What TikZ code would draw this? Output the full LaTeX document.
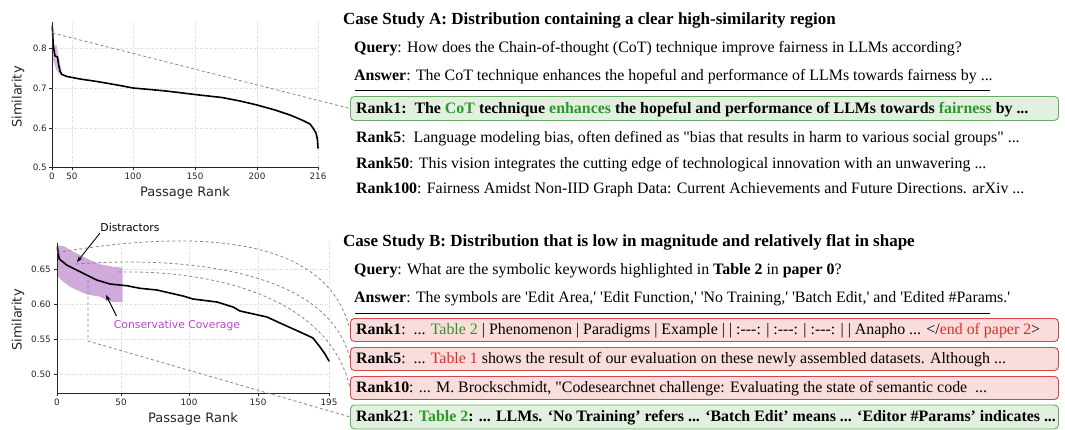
\documentclass[tikz,border=0pt]{standalone}
\usepackage{fontspec}
\setmainfont{Liberation Serif}[Ligatures=TeXOff]
\newfontfamily\plotfont{DejaVu Sans}
\usetikzlibrary{arrows.meta}
\definecolor{gtext}{RGB}{44,150,44}
\definecolor{rtext}{RGB}{232,40,40}
\definecolor{gfill}{RGB}{226,241,223}
\definecolor{gline}{RGB}{105,170,100}
\definecolor{rfill}{RGB}{249,221,220}
\definecolor{rline}{RGB}{215,70,70}
\definecolor{bandc}{RGB}{207,170,218}
\definecolor{ccol}{RGB}{190,70,200}
\definecolor{dgray}{RGB}{135,135,135}
\definecolor{gridc}{RGB}{210,210,210}
\begin{document}
\begin{tikzpicture}[x=1pt,y=-1pt,
  txt/.style={anchor=base west, inner sep=0pt, font=\fontsize{15.9}{19}\selectfont},
  ttl/.style={anchor=base west, inner sep=0pt, font=\fontsize{17}{20}\selectfont\bfseries},
  gbox/.style={draw=gline, fill=gfill, rounded corners=4pt, line width=0.9pt, anchor=north west, minimum width=708pt, inner sep=0pt},
  rbox/.style={draw=rline, fill=rfill, rounded corners=4pt, line width=0.9pt, anchor=north west, minimum width=708pt, inner sep=0pt},
  spine/.style={line width=0.9pt, black!85},
  gridl/.style={gridc, line width=0.5pt, dash pattern=on 1pt off 1.5pt},
  conn/.style={dgray, line width=0.8pt, dash pattern=on 3pt off 2.5pt},
  curve/.style={black, line width=1.6pt, line join=round, line cap=round},
  ytick/.style={anchor=east, inner sep=0pt, font=\plotfont\fontsize{8.8}{10}\selectfont, text=black!85},
  xtick/.style={anchor=north, inner sep=0pt, font=\plotfont\fontsize{8.8}{10}\selectfont, text=black!85},
  axlab/.style={inner sep=0pt, font=\plotfont\fontsize{13}{15}\selectfont, text=black!85},
  annot/.style={inner sep=0pt, font=\plotfont\fontsize{10.8}{13}\selectfont}
]
\useasboundingbox (0,0) rectangle (1065,429);

% ================= Plot A =================
\foreach \x in {72,133,195,257,318} \draw[gridl] (\x,22) -- (\x,167);
\foreach \y in {48,88,128} \draw[gridl] (52,\y) -- (318,\y);
\fill[bandc, opacity=0.8] (52.5,46) -- (56.5,45) -- (58.5,56) -- (61.5,70) -- (60.5,76.5) -- (56.5,70) -- (53,60) -- cycle;
\coordinate (sa) at (52.5,33);
\draw[curve] (52.3,26) -- (53,40) -- (53.5,47) -- (55,56) -- (57.5,57) -- (58.5,64) -- (60,71) -- (62,74.5) -- (67,76.5) -- (80,79) -- (97,81.5) -- (120,85.5) -- (133,88) -- (150,89.5) -- (166,91) -- (195,94.5) -- (222,97.5) -- (240,101) -- (257,105) -- (275,110) -- (290,115) -- (303,120.5) -- (310,124) -- (313,128) -- (316,133) -- (317.5,140) -- (318,148);
\draw[spine] (52,22) -- (52,167) -- (318,167);
\foreach \y/\l in {48/0.8,88/0.7,128/0.6,167/0.5} {
  \draw[spine] (49,\y) -- (52,\y);
  \node[ytick] (ya\l) at (47,\y) {\l};
}
\foreach \x/\l in {52/0,72/50,133/100,195/150,257/200,318/216} {
  \draw[spine] (\x,167) -- (\x,170);
  \node[xtick] (xa\l) at (\x,173) {\l};
}
\node[axlab] (xla) at (185,193) {Passage Rank};
\node[axlab, rotate=90] (yla) at (18,97) {Similarity};

% ================= Plot B =================
\foreach \x in {121,189,258,329} \draw[gridl] (\x,243) -- (\x,393);
\foreach \y in {269,304,339,374} \draw[gridl] (57,\y) -- (329,\y);
\fill[bandc] (57,245) -- (65,246.7) -- (70,250) -- (80,255) -- (90,260) -- (100,264.3) -- (113,266.7) -- (122.7,267.7) -- (122.7,302) -- (110,301.7) -- (100,296.7) -- (86.7,294.3) -- (76.7,290) -- (70,286.7) -- (63.3,281.7) -- (59.3,278.3) -- (57,273.3) -- cycle;
\coordinate (s1) at (57.5,252.5);
\coordinate (s5) at (76,264);
\coordinate (s10) at (118,272);
\coordinate (s21) at (88,280);
\coordinate (k21) at (88,341);
\draw[curve] (57.3,247) -- (58.3,254) -- (59.3,259) -- (66.7,265) -- (80,271.7) -- (96.7,280) -- (110,284) -- (126.7,285.7) -- (140,288.3) -- (157,290) -- (183,296) -- (193,299) -- (217,302) -- (233,307) -- (240,311) -- (267,317) -- (280,323) -- (300,332) -- (313,338) -- (320,347) -- (325,354) -- (329,361);
\draw[spine] (57,243) -- (57,393) -- (329,393);
\foreach \y/\l in {269/0.65,304/0.60,339/0.55,374/0.50} {
  \draw[spine] (54,\y) -- (57,\y);
  \node[ytick] (yb\l) at (51,\y) {\l};
}
\foreach \x/\l in {57/0,121/50,189/100,258/150,329/195} {
  \draw[spine] (\x,393) -- (\x,396);
  \node[xtick] (xb\l) at (\x,399) {\l};
}
\node[axlab] (xlb) at (193,419) {Passage Rank};
\node[axlab, rotate=90] (ylb) at (18,320) {Similarity};
\node[annot] (dis) at (130,227) {Distractors};
\coordinate (dist) at (100,233);
\coordinate (dise) at (77,262);
\draw[-{Stealth[length=6pt,width=4.5pt]}, line width=0.9pt] (dist) -- (dise);
\node[annot, text=ccol] (cov) at (177,326) {Conservative Coverage};
\coordinate (covs) at (116.5,316);
\coordinate (cove) at (106,295);
\draw[-{Stealth[length=6pt,width=4.5pt]}, line width=0.9pt] (covs) -- (cove);

% ================= Text A =================
\node[ttl] (ta) at (343,24) {Case Study A: Distribution containing a clear high-similarity region};
\node[txt] (qa) at (354,52) {\textbf{Query}: How does the Chain-of-thought (CoT) technique improve fairness in LLMs according?};
\node[txt] (aa) at (354,80) {\textbf{Answer}: The CoT technique enhances the hopeful and performance of LLMs towards fairness by ...};
\coordinate (sepal) at (355,90);
\coordinate (separ) at (990,90);
\draw[line width=1pt] (sepal) -- (separ);
\node[gbox, minimum height=24pt] (ba1) at (350,96) {};
\node[txt] (ra1) at (356,113) {\textbf{Rank1:\ \ The \textcolor{gtext}{CoT} technique \textcolor{gtext}{enhances} the hopeful and performance of LLMs towards \textcolor{gtext}{fairness} by ...}};
\node[txt] (ra5) at (356,142) {\textbf{Rank5}:\ \ Language modeling bias, often defined as "bias that results in harm to various social groups" ...};
\node[txt] (ra50) at (356,168) {\textbf{Rank50}: This vision integrates the cutting edge of technological innovation with an unwavering ...};
\node[txt] (ra100) at (356,193) {\textbf{Rank100}: Fairness Amidst Non-IID Graph Data: Current Achievements and Future Directions. arXiv ...};
\draw[conn] (sa) -- (ba1.west);

% ================= Text B =================
\node[ttl] (tb) at (343,246) {Case Study B: Distribution that is low in magnitude and relatively flat in shape};
\node[txt] (qb) at (354,274) {\textbf{Query}: What are the symbolic keywords highlighted in \textbf{Table 2} in \textbf{paper 0}?};
\node[txt] (ab) at (354,302) {\textbf{Answer}: The symbols are 'Edit Area,' 'Edit Function,' 'No Training,' 'Batch Edit,' and 'Edited \#Params.'};
\coordinate (sepbl) at (355,313);
\coordinate (sepbr) at (990,313);
\draw[line width=1pt] (sepbl) -- (sepbr);
\node[rbox, minimum height=23pt] (bb1) at (350,318) {};
\node[rbox, minimum height=23pt] (bb5) at (350,347) {};
\node[rbox, minimum height=23pt] (bb10) at (350,376) {};
\node[gbox, minimum height=24pt] (bb21) at (350,404.5) {};
\node[txt] (rb1) at (356,334.5) {\textbf{Rank1}:\ \ ... \textcolor{gtext}{Table 2} | Phenomenon | Paradigms | Example | | :---: | :---: | :---: | | Anapho ... </\textcolor{rtext}{end of paper 2}>};
\node[txt] (rb5) at (356,363.5) {\textbf{Rank5}:\ \ ... \textcolor{rtext}{Table 1} shows the result of our evaluation on these newly assembled datasets. Although ...};
\node[txt] (rb10) at (356,392.5) {\textbf{Rank10}: ... M. Brockschmidt, "Codesearchnet challenge: Evaluating the state of semantic code\ \ ...};
\node[txt] (rb21) at (356,421.5) {\textbf{Rank21}: \textbf{\textcolor{gtext}{Table 2}: ... LLMs. ‘No Training’ refers ... ‘Batch Edit’ means ... ‘Editor \#Params’ indicates ...}};
\draw[conn] (s1) .. controls (220,225) and (330,245) .. (bb1.west);
\draw[conn] (s5) .. controls (200,255) and (330,275) .. (bb5.west);
\draw[conn] (s10) .. controls (220,270) and (330,300) .. (bb10.west);
\draw[conn] (s21) -- (k21) -- (bb21.west);
\end{tikzpicture}
\end{document}
